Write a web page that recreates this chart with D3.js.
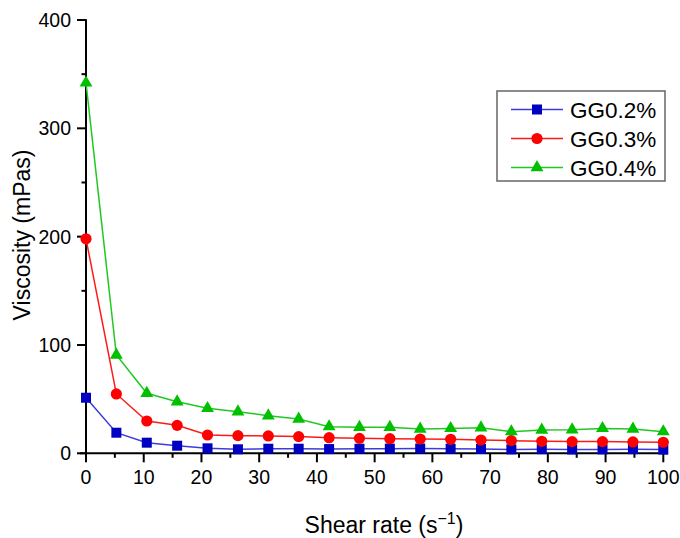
<!DOCTYPE html>
<html>
<head>
<meta charset="utf-8">
<title>viscosity</title>
<style>
body { margin: 0; background: #fff; }
svg text { font-family: "Liberation Sans", Arial, sans-serif; fill: #000; }
</style>
</head>
<body>
<svg width="680" height="538"></svg>
<script src="https://d3js.org/d3.v7.min.js"></script>
<script>
// shear rate (1/s)
var shearRate = [0, 5.26, 10.53, 15.79, 21.05, 26.32, 31.58, 36.84, 42.11, 47.37,
                 52.63, 57.89, 63.16, 68.42, 73.68, 78.95, 84.21, 89.47, 94.74, 100];

var gg02 = [51.3, 19, 9.8, 7, 4.6, 3.7, 4.2, 4.2, 3.9, 4.2,
            4.3, 4.4, 4.2, 4.0, 3.6, 3.8, 3.5, 3.6, 3.8, 3.4];
var gg03 = [198, 54.8, 29.8, 25.8, 16.9, 16.3, 16, 15.4, 14.4, 13.8,
            13.5, 13.2, 12.9, 12.3, 11.7, 11.1, 10.8, 10.8, 10.5, 10.2];
var gg04 = [342, 90.7, 55.4, 47.6, 41.5, 38.4, 34.7, 31.7, 24.6, 24,
            24, 22.4, 23, 23.6, 20, 21.5, 21.8, 23, 22.4, 20];

var seriesNames = ["GG0.2%", "GG0.3%", "GG0.4%"];
var xTicks = [0, 10, 20, 30, 40, 50, 60, 70, 80, 90, 100];
var yTicks = [0, 100, 200, 300, 400];

var series = [
  {name: seriesNames[0], values: gg02, line: "#3c3cdc", fill: "#0000c0", shape: "square"},
  {name: seriesNames[1], values: gg03, line: "#ff1a1a", fill: "#ff0000", shape: "circle"},
  {name: seriesNames[2], values: gg04, line: "#22c822", fill: "#00c000", shape: "triangle"}
];

var svg = d3.select("svg");

var x = d3.scaleLinear().domain([0, 100]).range([86, 663.3]);
var y = d3.scaleLinear().domain([0, 400]).range([453.3, 20]);

// axes
var xAxis = svg.append("g").attr("transform", "translate(0,453.3)");
xAxis.append("line")
    .attr("x1", 80).attr("x2", 668)
    .attr("stroke", "#000").attr("stroke-width", 2);
xAxis.selectAll("line.major").data(xTicks).enter().append("line")
    .attr("class", "major")
    .attr("x1", function(d) { return x(d); }).attr("x2", function(d) { return x(d); })
    .attr("y1", 0).attr("y2", 9)
    .attr("stroke", "#000").attr("stroke-width", 2);
xAxis.selectAll("line.minor").data(xTicks.slice(0, -1)).enter().append("line")
    .attr("class", "minor")
    .attr("x1", function(d) { return x(d + 5); }).attr("x2", function(d) { return x(d + 5); })
    .attr("y1", 0).attr("y2", 4.5)
    .attr("stroke", "#000").attr("stroke-width", 2);
xAxis.selectAll("text").data(xTicks).enter().append("text")
    .attr("x", function(d) { return x(d); })
    .attr("y", 31)
    .attr("text-anchor", "middle")
    .style("font-size", "19.5px")
    .text(function(d) { return d; });

var yAxis = svg.append("g").attr("transform", "translate(86,0)");
yAxis.append("line")
    .attr("y1", 19.3).attr("y2", 454.3)
    .attr("stroke", "#000").attr("stroke-width", 2);
yAxis.selectAll("line.major").data(yTicks).enter().append("line")
    .attr("class", "major")
    .attr("y1", function(d) { return y(d); }).attr("y2", function(d) { return y(d); })
    .attr("x1", 0).attr("x2", -9)
    .attr("stroke", "#000").attr("stroke-width", 2);
yAxis.selectAll("line.minor").data(yTicks.slice(0, -1)).enter().append("line")
    .attr("class", "minor")
    .attr("y1", function(d) { return y(d + 50); }).attr("y2", function(d) { return y(d + 50); })
    .attr("x1", 0).attr("x2", -4.5)
    .attr("stroke", "#000").attr("stroke-width", 2);
yAxis.selectAll("text").data(yTicks).enter().append("text")
    .attr("x", -15)
    .attr("y", function(d) { return y(d) + 7; })
    .attr("text-anchor", "end")
    .style("font-size", "19.5px")
    .text(function(d) { return d; });

// axis titles
var xt = svg.append("text")
    .attr("x", 384).attr("y", 533)
    .attr("text-anchor", "middle")
    .style("font-size", "23px")
    .text("Shear rate (s");
xt.append("tspan").attr("dy", -9).style("font-size", "16px").text("\u22121");
xt.append("tspan").attr("dy", 9).text(")");

svg.append("text")
    .attr("transform", "translate(30,235) rotate(-90)")
    .attr("text-anchor", "middle")
    .style("font-size", "23px")
    .text("Viscosity (mPas)");

function drawMarker(g, shape, fill) {
  if (shape === "square") {
    g.append("rect").attr("x", -5).attr("y", -5).attr("width", 10).attr("height", 10).attr("fill", fill);
  } else if (shape === "circle") {
    g.append("circle").attr("r", 5.6).attr("fill", fill);
  } else {
    g.append("path").attr("d", d3.symbol().type(d3.symbolTriangle).size(72)()).attr("fill", fill);
  }
}

var line = d3.line()
    .x(function(d, i) { return x(shearRate[i]); })
    .y(function(d) { return y(d); });

series.forEach(function(s) {
  svg.append("path")
      .datum(s.values)
      .attr("d", line)
      .attr("fill", "none")
      .attr("stroke", s.line)
      .attr("stroke-width", 1.5);
  svg.append("g").selectAll("g").data(s.values).enter().append("g")
      .attr("transform", function(d, i) { return "translate(" + x(shearRate[i]) + "," + y(d) + ")"; })
      .each(function() { drawMarker(d3.select(this), s.shape, s.fill); });
});

// legend
var legend = svg.append("g").attr("transform", "translate(497,91)");
legend.append("rect")
    .attr("width", 168).attr("height", 90)
    .attr("fill", "#fff").attr("stroke", "#666").attr("stroke-width", 1.5);
series.forEach(function(s, i) {
  var row = legend.append("g").attr("transform", "translate(0," + (18.5 + i * 29) + ")");
  row.append("line").attr("x1", 14).attr("x2", 66)
      .attr("stroke", s.line).attr("stroke-width", 1.5);
  drawMarker(row.append("g").attr("transform", "translate(40,0)"), s.shape, s.fill);
  row.append("text").attr("x", 73).attr("y", 8)
      .style("font-size", "22.5px")
      .text(s.name);
});
</script>
</body>
</html>
